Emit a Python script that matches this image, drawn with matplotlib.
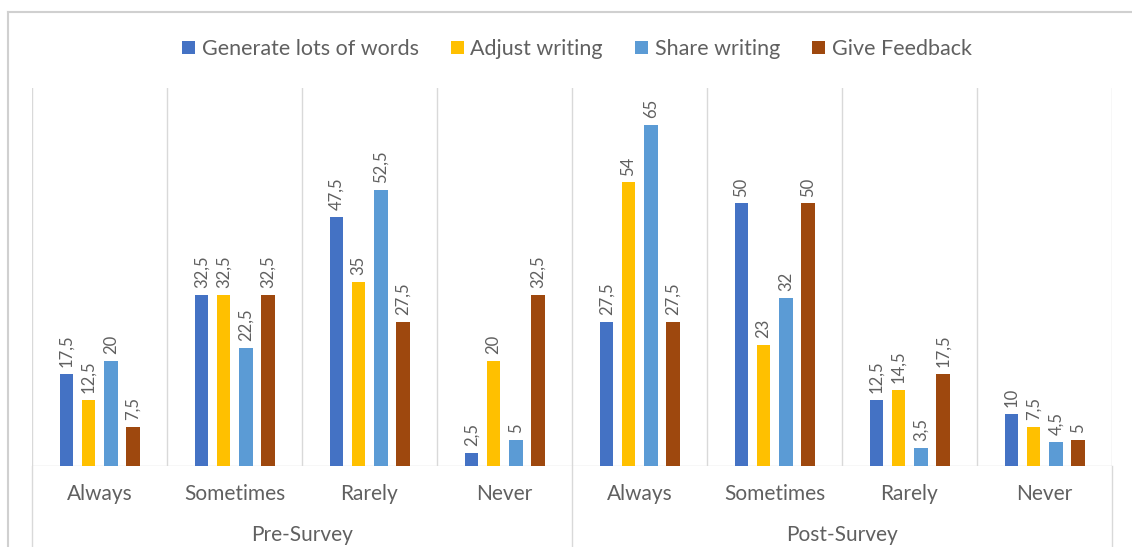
import numpy as np
import matplotlib
matplotlib.use("Agg")
from matplotlib import pyplot as plt
from matplotlib.lines import Line2D

# data
categories = ["Always", "Sometimes", "Rarely", "Never"]
groups = ["Pre-Survey", "Post-Survey"]
series = ["Generate lots of words", "Adjust writing", "Share writing", "Give Feedback"]

generate = [17.5, 32.5, 47.5, 2.5, 27.5, 50, 12.5, 10]
adjust = [12.5, 32.5, 35, 20, 54, 23, 14.5, 7.5]
share = [20, 22.5, 52.5, 5, 65, 32, 3.5, 4.5]
feedback = [7.5, 32.5, 27.5, 32.5, 27.5, 50, 17.5, 5]

colors = ["#4472C4", "#FFC000", "#5B9BD5", "#9E480E"]
txt = "#606060"
grid = "#D9D9D9"

plt.rcParams['font.family'] = ['Lato', 'DejaVu Sans']

fig = plt.figure(figsize=(11.32, 5.47), dpi=100)
ax = fig.add_axes([32/1132, 81/547, 1080/1132, 378/547])

n = len(categories) * len(groups)
x = np.arange(n)
offsets = [-0.245, -0.082, 0.085, 0.248]
width = 0.1

for vals, off, c, name in zip([generate, adjust, share, feedback], offsets, colors, series):
    bars = ax.bar(x + off, vals, width, color=c, label=name, zorder=3)
    labels = [f"{v:g}".replace(".", ",") for v in vals]
    ax.bar_label(bars, labels=labels, rotation=90, padding=5, color=txt, fontsize=12)

ax.set_xlim(-0.5, n - 0.5)
ax.set_ylim(0, 72)
ax.set_yticks([])
for s in ax.spines.values():
    s.set_visible(False)
ax.axhline(0, color=grid, lw=1, zorder=2)
for b in np.arange(-0.5, n, 1):
    ax.axvline(b, color=grid, lw=1, zorder=1)

ax.set_xticks(x)
ax.set_xticklabels(categories * len(groups), color=txt, fontsize=15)
ax.tick_params(axis='x', length=0, pad=13)

# group labels and separators below the axis
trans = ax.get_xaxis_transform()
for i, g in enumerate(groups):
    ax.text(i * 4 + 1.5, -0.183, g, transform=trans, ha='center', va='center',
            color=txt, fontsize=15)
for b in [-0.5, 3.5, 7.5]:
    ax.plot([b, b], [0, -0.22], transform=trans, color=grid, lw=1, clip_on=False)

# outer chart frame (top and left edges visible)
fig.add_artist(Line2D([8/1132, 1.0], [1 - 12/547, 1 - 12/547], color="#D0D0D0", lw=1.5,
                      transform=fig.transFigure))
fig.add_artist(Line2D([8/1132, 8/1132], [0, 1 - 12/547], color="#D0D0D0", lw=1.5,
                      transform=fig.transFigure))

fig.legend(loc='center', bbox_to_anchor=(577/1132, 1 - 49/547), ncol=4, frameon=False,
           fontsize=15.5, handlelength=0.6, handleheight=0.6, handletextpad=0.3,
           columnspacing=1.5, labelcolor=txt)

fig.savefig("out.png", dpi=100, facecolor="white")
